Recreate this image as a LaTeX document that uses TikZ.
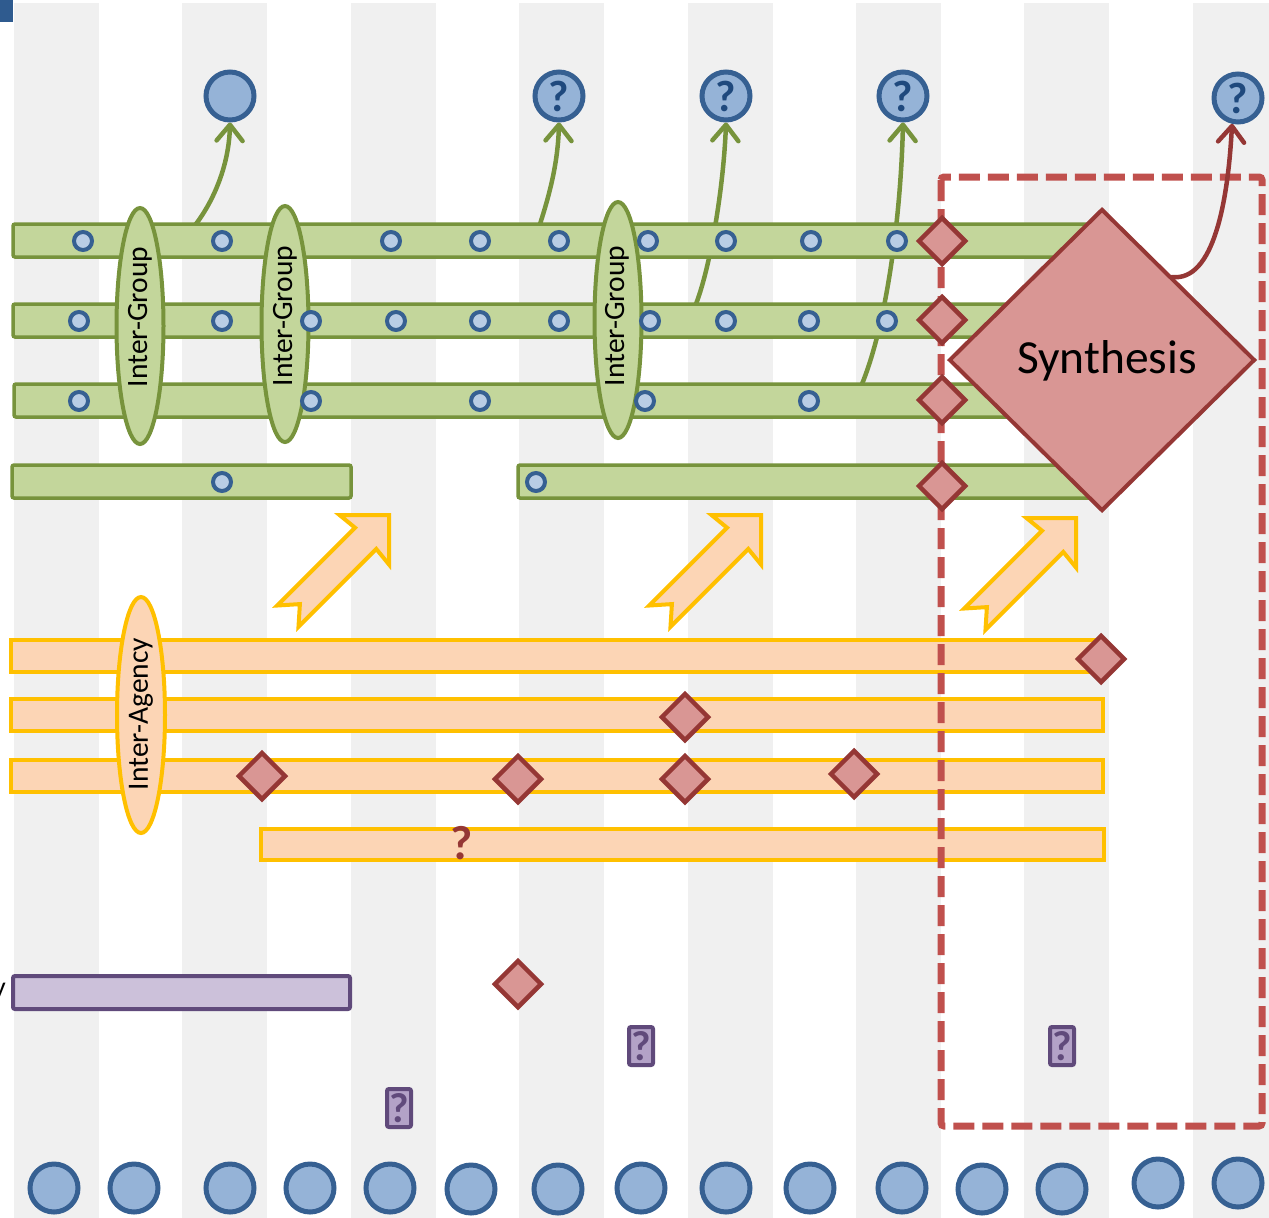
\documentclass[tikz,border=0pt]{standalone}
\usepackage{fontspec}
\setmainfont{Carlito}
\usetikzlibrary{shapes.geometric,arrows.meta}
\definecolor{stripe}{HTML}{F0F0F0}
\definecolor{gfill}{HTML}{C3D69B}
\definecolor{gline}{HTML}{77933C}
\definecolor{cline}{HTML}{366092}
\definecolor{sfill}{HTML}{B9CDE5}
\definecolor{bfill}{HTML}{95B3D7}
\definecolor{qblue}{HTML}{1F497D}
\definecolor{ofill}{HTML}{FCD5B5}
\definecolor{oline}{HTML}{FFC000}
\definecolor{rfill}{HTML}{D99694}
\definecolor{rline}{HTML}{953735}
\definecolor{dashred}{HTML}{C0504D}
\definecolor{pfill}{HTML}{CCC1DA}
\definecolor{pline}{HTML}{604A7B}
\definecolor{pqfill}{HTML}{B3A2C7}
\definecolor{navy}{HTML}{2F5B8F}
\begin{document}
\begin{tikzpicture}[x=1pt,y=-1pt,
  gbar/.style={rectangle, draw=gline, fill=gfill, line width=3.5pt, rounded corners=2pt, minimum height=33pt, inner sep=0pt},
  obar/.style={rectangle, draw=oline, fill=ofill, line width=4pt, minimum height=32pt, inner sep=0pt},
  pbar/.style={rectangle, draw=pline, fill=pfill, line width=4pt, rounded corners=2pt, minimum height=33pt, inner sep=0pt},
  dot/.style={circle, draw=cline, fill=sfill, line width=4pt, minimum size=18pt, inner sep=0pt},
  bigc/.style={circle, draw=cline, fill=bfill, line width=5pt, minimum size=48pt, inner sep=0pt, text=qblue, font=\bfseries\fontsize{44}{44}\selectfont},
  rdia/.style={diamond, draw=rline, fill=rfill, line width=4.5pt, minimum width=48pt, minimum height=48pt, inner sep=0pt},
  bigdia/.style={diamond, draw=rline, fill=rfill, line width=4pt, minimum width=306pt, minimum height=302pt, inner sep=0pt},
  gell/.style={ellipse, draw=gline, fill=gfill, line width=4pt, minimum width=47pt, minimum height=236pt, inner sep=0pt},
  oell/.style={ellipse, draw=oline, fill=ofill, line width=4pt, minimum width=48pt, minimum height=236pt, inner sep=0pt},
  elltext/.style={rotate=90, inner sep=0pt, font=\fontsize{29.5}{31}\selectfont},
  garrow/.style={draw=gline, line width=4.5pt, line cap=round, -{Straight Barb[length=16pt,width=26pt,round]}},
  rarrow/.style={draw=rline, line width=4.5pt, line cap=round, -{Straight Barb[length=16pt,width=26pt,round]}},
  yarrow/.style={draw=oline, fill=ofill, line width=4pt, line join=miter},
  dashbox/.style={draw=dashred, line width=7pt, dash pattern=on 21pt off 8pt, rounded corners=3pt},
  pq/.style={rectangle, rounded corners=2pt, draw=pline, fill=pqfill, line width=4pt, minimum width=24pt, minimum height=38pt, inner sep=0pt, text=pline, font=\bfseries\fontsize{42}{42}\selectfont}
]
\useasboundingbox (0,0) rectangle (1269,1218);
% background stripes
\foreach \k in {0,...,7} \fill[stripe] ({14+168.4*\k},3) rectangle ++(85,1215);
\fill[navy] (0,0) rectangle (13,22);

% top circles
\node[bigc] (t1) at (230,96) {};
\node[bigc] (t2) at (559,96) {?};
\node[bigc] (t3) at (726,96) {?};
\node[bigc] (t4) at (903,96) {?};
\node[bigc] (t5) at (1238,98) {?};

% bottom circles
\foreach \px/\py [count=\i] in {54/1188, 134/1188, 230/1188, 310/1188, 390/1188, 471/1189, 558/1189, 641/1188, 726/1188, 810/1188, 902/1188, 982/1189, 1062/1189, 1158/1183, 1238/1183}
  \node[bigc] (b\i) at (\px,\py) {};

% green arrows (behind bars)
\coordinate (a1s) at (196,224);
\coordinate (a2s) at (540,224);
\coordinate (a3s) at (696,304);
\coordinate (a4s) at (862,384);
\draw[garrow] (a1s) .. controls (214,200) and (229,165) .. (t1.south);
\draw[garrow] (a2s) .. controls (551,190) and (558,160) .. (t2.south);
\draw[garrow] (a3s) .. controls (712,262) and (724,180) .. (t3.south);
\draw[garrow] (a4s) .. controls (888,320) and (901,210) .. (t4.south);

% green bars
\node[gbar, minimum width=1087pt] (g1) at (556.5,240.5) {};
\node[gbar, minimum width=1087pt] (g2) at (556.5,320.5) {};
\node[gbar, minimum width=1086pt] (g3) at (557,400.5) {};
\node[gbar, minimum width=339pt] (g4a) at (181.5,481.5) {};
\node[gbar, minimum width=582pt] (g4b) at (809,481.5) {};

% inter-group ellipses
\node[gell] (ig1) at (140,326) {};
\node[gell] (ig2) at (285,324) {};
\node[gell] (ig3) at (618,320) {};
\node[elltext] (ig1t) at (140,317) {Inter-Group};
\node[elltext] (ig2t) at (285,316) {Inter-Group};
\node[elltext] (ig3t) at (617,316) {Inter-Group};

% dots
\foreach \px [count=\i] in {83,222,391,480,559,648,726,811,897} \node[dot] (da\i) at (\px,241) {};
\foreach \px [count=\i] in {79,222,311,396,480,559,650,726,809,887} \node[dot] (db\i) at (\px,321) {};
\foreach \px [count=\i] in {79,311,480,645,809} \node[dot] (dc\i) at (\px,401) {};
\node[dot] (dd1) at (222,482) {};
\node[dot] (dd2) at (536,482) {};

% orange bars
\node[obar, minimum width=1089pt] (o1) at (555.5,656) {};
\node[obar, minimum width=1092pt] (o2) at (557,715) {};
\node[obar, minimum width=1092pt] (o3) at (557,776) {};
\node[obar, minimum width=843pt, minimum height=31pt] (o4) at (682.5,844) {};
\node[oell] (ia) at (141,715) {};
\node[elltext] (iat) at (141,714) {Inter-Agency};
\node[font=\bfseries\fontsize{48}{48}\selectfont, text=rline, inner sep=0pt] (qd) at (462,843) {?};

% purple bar and markers
\node[pbar, minimum width=337pt] (pb) at (181.5,992.5) {};
\node[anchor=base east, inner sep=0pt, font=\fontsize{28}{30}\selectfont] (ylab) at (6,996) {y};
\node[pq] (pq1) at (641,1046) {?};
\node[pq] (pq2) at (1062,1046) {?};
\node[pq] (pq3) at (399,1108) {?};

% yellow block arrows
\foreach \tx/\ty in {389/515, 761/515, 1076/518}
  \draw[yarrow, shift={(\tx,\ty)}, rotate=45]
    (0,0) -- (-35,35) -- (-33,15) -- (-143,15) -- (-126,0) -- (-143,-15) -- (-33,-15) -- (-35,-35) -- cycle;

% dashed box
\draw[dashbox] (941,177) rectangle (1262,1126);

% red diamonds
\node[rdia] (r1) at (942,241) {};
\node[rdia] (r2) at (942,320) {};
\node[rdia] (r3) at (942,400) {};
\node[rdia] (r4) at (942,486) {};
\node[rdia] (r5) at (1101,659) {};
\node[rdia] (r6) at (685,717) {};
\node[rdia] (r7) at (262,776) {};
\node[rdia] (r8) at (518,779) {};
\node[rdia] (r9) at (685,779) {};
\node[rdia] (r10) at (854,774) {};
\node[rdia] (r11) at (518,984) {};

% synthesis
\node[bigdia] (syn) at (1102,360) {};
\node[anchor=base, inner sep=0pt, font=\fontsize{47.5}{49}\selectfont] (synt) at (1107,373) {Synthesis};
\coordinate (rs) at (1172,277);
\draw[rarrow] (rs) .. controls (1214,282) and (1228,200) .. (t5.-103);
\end{tikzpicture}
\end{document}
